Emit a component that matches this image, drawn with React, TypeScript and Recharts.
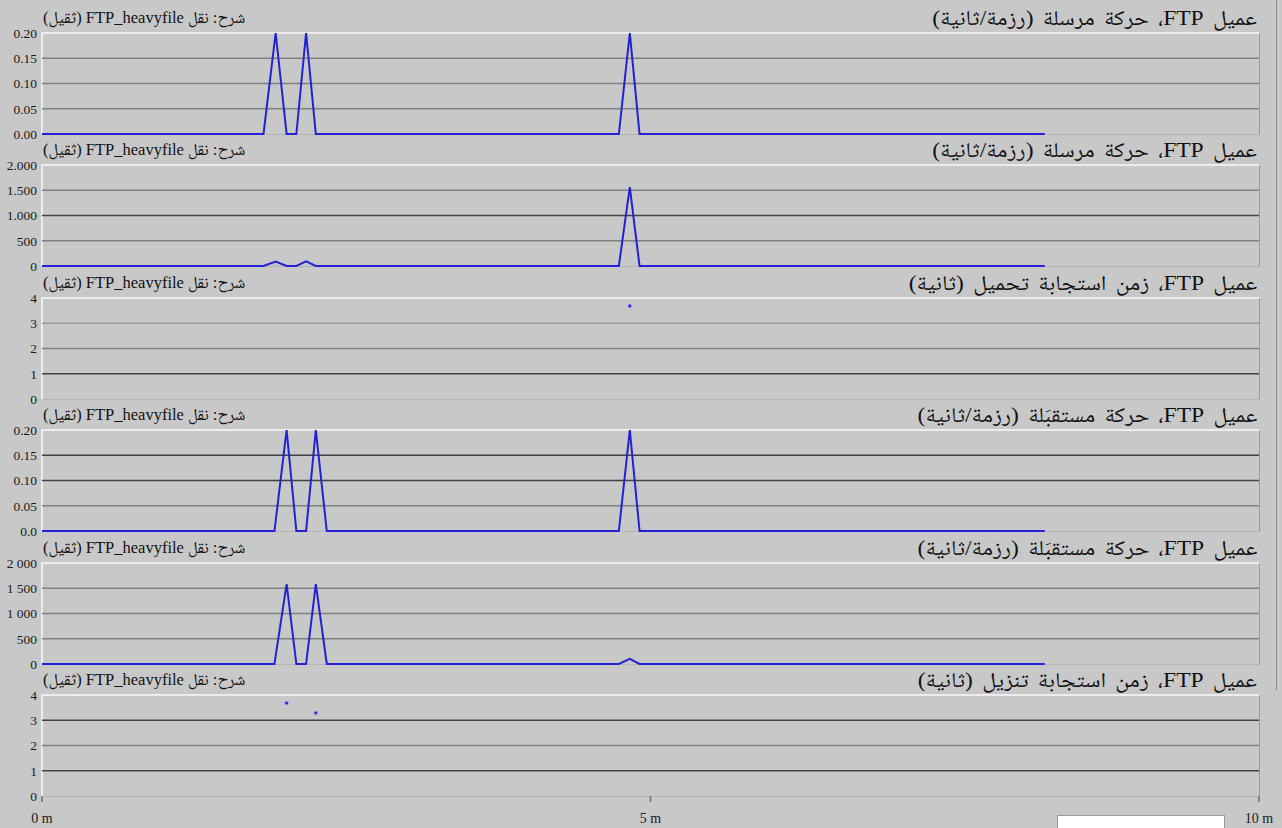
import { ComposedChart, Line, Scatter, XAxis, YAxis, ReferenceLine } from "recharts"

// time in minutes
const TIME_SENT = [0, 1.82, 1.92, 2.01, 2.09, 2.17, 2.25, 4.74, 4.83, 4.91, 8.24]
const SENT_PACKETS = [0, 0, 0.2, 0, 0, 0.2, 0, 0, 0.2, 0, 0]
const SENT_BYTES = [0, 0, 90, 0, 0, 90, 0, 0, 1560, 0, 0]

const TIME_RECV = [0, 1.91, 2.01, 2.09, 2.17, 2.25, 2.34, 4.74, 4.83, 4.91, 8.24]
const RECV_PACKETS = [0, 0, 0.2, 0, 0, 0.2, 0, 0, 0.2, 0, 0]
const RECV_BYTES = [0, 0, 1580, 0, 0, 1580, 0, 0, 100, 0, 0]

const UPLOAD_TIME = [4.83]
const UPLOAD_RESP = [3.68]
const DOWNLOAD_TIME = [2.01, 2.25]
const DOWNLOAD_RESP = [3.68, 3.29]

const PKT_TICKS = [0, 0.05, 0.1, 0.15, 0.2]
const SENT_PKT_LABELS = ["0.00", "0.05", "0.10", "0.15", "0.20"]
const RECV_PKT_LABELS = ["0.0", "0.05", "0.10", "0.15", "0.20"]
const BYTE_TICKS = [0, 500, 1000, 1500, 2000]
const SENT_BYTE_LABELS = ["0", "500", "1.000", "1.500", "2.000"]
const RECV_BYTE_LABELS = ["0", "500", "1 000", "1 500", "2 000"]
const RESP_TICKS = [0, 1, 2, 3, 4]
const RESP_LABELS = ["0", "1", "2", "3", "4"]
const TIME_TICKS = [0, 5, 10]
const TIME_LABELS = ["0 m", "5 m", "10 m"]

const TITLES = [
  "عميل FTP، حركة مرسلة (رزمة/ثانية)",
  "عميل FTP، حركة مرسلة (رزمة/ثانية)",
  "عميل FTP، زمن استجابة تحميل (ثانية)",
  "عميل FTP، حركة مستقبَلة (رزمة/ثانية)",
  "عميل FTP، حركة مستقبَلة (رزمة/ثانية)",
  "عميل FTP، زمن استجابة تنزيل (ثانية)",
]
const SUBTITLE = "شرح: نقل FTP_heavyfile (ثقيل)"

const BG = "#c8c8c8"
const BLUE = "#2222d4"
const G = "#808080"
const D = "#404040"
const L = "#9a9a9a"
const FONT = "'Liberation Serif', 'Times New Roman', Tinos, 'DejaVu Serif', 'Noto Naskh Arabic', 'DejaVu Sans', serif"

const PLOT_TOP = 33
const STEP = 132.4
const PLOT_H = 101
const PLOT_L = 42
const PLOT_R = 1259
const MT = 10

const zip = (xs: number[], ys: number[]) => xs.map((t, i) => ({ t, v: ys[i] }))

const panels = [
  { kind: "line", rows: zip(TIME_SENT, SENT_PACKETS), ticks: PKT_TICKS, labels: SENT_PKT_LABELS, grid: [G, G, G] },
  { kind: "line", rows: zip(TIME_SENT, SENT_BYTES), ticks: BYTE_TICKS, labels: SENT_BYTE_LABELS, grid: [G, D, G] },
  { kind: "dots", rows: zip(UPLOAD_TIME, UPLOAD_RESP), ticks: RESP_TICKS, labels: RESP_LABELS, grid: [D, G, L] },
  { kind: "line", rows: zip(TIME_RECV, RECV_PACKETS), ticks: PKT_TICKS, labels: RECV_PKT_LABELS, grid: [G, D, D] },
  { kind: "line", rows: zip(TIME_RECV, RECV_BYTES), ticks: BYTE_TICKS, labels: RECV_BYTE_LABELS, grid: [G, G, G] },
  { kind: "dots", rows: zip(DOWNLOAD_TIME, DOWNLOAD_RESP), ticks: RESP_TICKS, labels: RESP_LABELS, grid: [D, G, D] },
]

function Dot(props: any) {
  return <circle cx={props.cx} cy={props.cy} r={2} fill="#2a2ad0" stroke="#a8a8ee" strokeWidth={1} />
}

function Panel({ p, index }: { p: (typeof panels)[number]; index: number }) {
  const top = Math.round(PLOT_TOP + index * STEP)
  const last = index === panels.length - 1
  const bottom = last ? 4 : 12
  const h = MT + PLOT_H + bottom + (last ? 32 : 0)
  const max = p.ticks[p.ticks.length - 1]
  return (
    <>
      <div
        style={{
          position: "absolute",
          left: PLOT_L - 1,
          top: top - 1,
          width: PLOT_R - PLOT_L + 2,
          height: PLOT_H + 2,
          boxSizing: "border-box",
          borderTop: "2px solid #ededed",
          borderLeft: "2px solid #ededed",
          borderRight: "1px solid #9c9c9c",
          borderBottom: "1px solid #b4b4b4",
        }}
      />
      <div
        dir="rtl"
        style={{
          position: "absolute",
          right: 1282 - 1257,
          top: top - 27,
          fontSize: 21,
          lineHeight: "24px",
          wordSpacing: 3,
          color: "#111",
          whiteSpace: "nowrap",
          transform: "scaleX(1.12)",
          transformOrigin: "right center",
        }}
      >
        {TITLES[index]}
      </div>
      <div
        dir="rtl"
        style={{ position: "absolute", left: 43, top: top - 25, fontSize: 16.5, lineHeight: "20px", color: "#111", whiteSpace: "nowrap" }}
      >
        {SUBTITLE}
      </div>
      <div style={{ position: "absolute", left: 0, top: top - MT }}>
        <ComposedChart
          width={1282}
          height={h}
          data={p.rows}
          margin={{ top: MT, right: 1282 - PLOT_R, bottom, left: 0 }}
          style={{ fontFamily: FONT }}
        >
          <XAxis
            dataKey="t"
            type="number"
            domain={[0, 10]}
            ticks={TIME_TICKS}
            hide={!last}
            height={32}
            axisLine={false}
            tickLine={{ stroke: "#707070", strokeWidth: 1.5 }}
            tickSize={6}
            tickMargin={11}
            interval={0}
            tickFormatter={(v: number) => TIME_LABELS[TIME_TICKS.indexOf(v)]}
            tick={{ fill: "#1a1a1a", fontSize: 14, fontFamily: FONT }}
          />
          <YAxis
            type="number"
            domain={[0, max]}
            ticks={p.ticks}
            width={PLOT_L}
            interval={0}
            axisLine={false}
            tickLine={false}
            tickSize={3}
            tickMargin={2}
            tickFormatter={(v: number) => p.labels[p.ticks.indexOf(v)]}
            tick={{ fill: "#1a1a1a", fontSize: 13.5, fontFamily: FONT }}
          />
          {p.ticks.slice(1, -1).map((v, i) => (
            <ReferenceLine key={v} y={v} stroke={p.grid[i]} strokeWidth={1.6} />
          ))}
          {p.kind === "line" ? (
            <Line
              dataKey="v"
              type="linear"
              stroke={BLUE}
              strokeWidth={2}
              dot={false}
              isAnimationActive={false}
            />
          ) : (
            <Scatter data={p.rows} dataKey="v" shape={<Dot />} isAnimationActive={false} />
          )}
        </ComposedChart>
      </div>
    </>
  )
}

export default function App() {
  return (
    <div
      style={{
        position: "absolute",
        left: 0,
        top: 0,
        width: 1282,
        height: 828,
        background: BG,
        fontFamily: FONT,
        overflow: "hidden",
      }}
    >
      <div style={{ position: "absolute", left: 1276, top: 0, width: 1, height: 690, background: "#8c8c8c" }} />
      {panels.map((p, i) => (
        <Panel key={i} p={p} index={i} />
      ))}
      <div
        style={{
          position: "absolute",
          left: 1057,
          top: 815,
          width: 168,
          height: 20,
          background: "#fff",
          border: "1px solid #999",
          boxSizing: "border-box",
        }}
      />
    </div>
  )
}
